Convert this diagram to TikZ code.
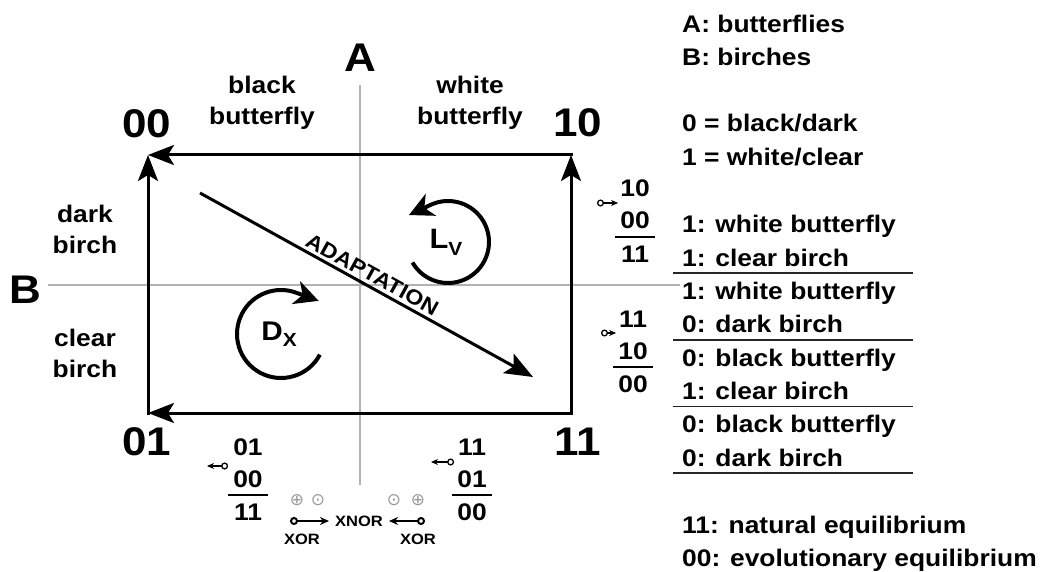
\documentclass[tikz,border=0pt]{standalone}
\usepackage{fontspec}
\setmainfont[FakeStretch=1.1]{Liberation Sans}
\newfontfamily\symfont{DejaVu Sans}
\usetikzlibrary{arrows.meta}
\newcommand{\fsz}[1]{\fontsize{#1}{#1}\selectfont}

\begin{document}
\begin{tikzpicture}[x=1pt, y=-1pt,
  every node/.style={inner sep=0pt, font=\bfseries},
  corner/.style={anchor=base, font=\bfseries\fsz{40}},
  quad/.style={align=center, font=\bfseries\fontsize{24}{31}\selectfont},
  digit/.style={anchor=base, font=\bfseries\fsz{24}},
  legend/.style={anchor=base west, font=\bfseries\fsz{24}},
  small/.style={font=\bfseries\fsz{15}},
  op/.style={font=\symfont\fsz{17}, text=gray!80},
  edgearrow/.style={line width=3pt, line cap=rect, -{Stealth[length=26pt, width=20pt, inset=6pt]}},
  turn/.style={line width=4pt, -{Stealth[length=24pt, width=24pt, inset=7pt]}},
  hookarrow/.style={line width=1.3pt, {Circle[open, length=7pt, width=7pt]}-{Stealth[length=7pt, width=6pt]}},
  xorarrow/.style={line width=2pt, {Circle[open, length=8pt, width=8pt]}-{Stealth[length=9pt, width=8pt]}},
  axis/.style={gray!60, line width=1.5pt},
  rule/.style={black!85, line width=1.8pt}]
  \useasboundingbox (0,0) rectangle (1042,572);

  % Axes A (butterflies) and B (birches)
  \draw[axis] (360,85) -- (360,485);
  \draw[axis] (48,285) -- (680,285);
  \node[corner] (A) at (360,72) {A};
  \node[corner] (B) at (25,303) {B};

  % Quadrant labels
  \node[quad] (qblack) at (262,103) {black\\butterfly};
  \node[quad] (qwhite) at (470,103) {white\\butterfly};
  \node[quad] (qdark) at (85,229) {dark\\birch};
  \node[quad] (qclear) at (85,353) {clear\\birch};

  % Corner states
  \node[corner] (l00) at (147,138) {00};
  \node[corner] (l10) at (578,137) {10};
  \node[corner] (l01) at (147,455) {01};
  \node[corner] (l11) at (578,455) {11};
  \coordinate (c00) at (148,155);
  \coordinate (c10) at (571,155);
  \coordinate (c01) at (148,413);
  \coordinate (c11) at (571,413);
  \draw[edgearrow] (c10) -- (c00);
  \draw[edgearrow] (c01) -- (c00);
  \draw[edgearrow] (c11) -- (c10);
  \draw[edgearrow] (c11) -- (c01);

  % Adaptation diagonal
  \coordinate (adstart) at (200,193);
  \coordinate (adend) at (533,377);
  \draw[line width=3pt, -{Stealth[length=28pt, width=22pt, inset=6pt]}] (adstart) --
    node[midway, above=3pt, sloped, font=\bfseries\fsz{21}] (adlabel) {ADAPTATION} (adend);

  % Rotations L_V and D_X
  \node (lv) at (446,242) {\fsz{28}L\raisebox{-7pt}{\fsz{19}V}};
  \draw[turn] (448,242) ++(-210:41) arc[start angle=-210, end angle=-475, radius=41] -- ++(-21.7,10.2);
  \node (dx) at (279,334) {\fsz{27}D\raisebox{-6pt}{\fsz{19}X}};
  \draw[turn] (281,334) ++(28:44) arc[start angle=28, end angle=290, radius=44] -- ++(22.6,8.2);

  % Stacked transitions
  \foreach \s/\x/\y/\ta/\tb/\tc in {sa/635/197/10/00/11, sb/633/327/11/10/00,
                                     sc/248/455/01/00/11, sd/472/455/11/01/00} {
    \node[digit] (\s1) at (\x,\y) {\ta};
    \node[digit] (\s2) at (\x,\y+32) {\tb};
    \node[digit] (\s3) at (\x,\y+65) {\tc};
    \draw[line width=1.5pt] ([xshift=-20pt, yshift=-8pt]\s2.base) -- ([xshift=20pt, yshift=-8pt]\s2.base);
  }
  \coordinate (ha) at (597,203);
  \coordinate (hb) at (601,333);
  \coordinate (hc) at (207,466);
  \coordinate (hd) at (431,462);
  \draw[hookarrow, shorten >=2pt] (ha) -- (ha -| sa2.west);
  \draw[hookarrow, shorten >=2pt] (hb) -- (hb -| sb2.west);
  \draw[hookarrow] ([xshift=-5pt]sc2.west |- hc) -- (hc);
  \draw[hookarrow] ([xshift=-3pt]sd2.west |- hd) -- (hd);

  % XOR / XNOR
  \node[small, inner sep=6pt] (xnor) at (359,521) {XNOR};
  \node[small] (xorl) at (302,539) {XOR};
  \node[small] (xorr) at (418,539) {XOR};
  \node[op] (opl1) at (297,500) {⊕};
  \node[op] (opl2) at (318,500) {⊙};
  \node[op] (opr1) at (394,500) {⊙};
  \node[op] (opr2) at (418,500) {⊕};
  \coordinate (xl) at (290,521);
  \coordinate (xr) at (425,521);
  \draw[xorarrow] (xl) -- (xnor.west);
  \draw[xorarrow] (xr) -- (xnor.east);

  % Legend
  \node[legend] (la) at (682,33) {A: butterflies};
  \node[legend] (lb) at (682,66) {B: birches};
  \node[legend] (l0) at (682,132) {0 = black/dark};
  \node[legend] (l1) at (682,166) {1 = white/clear};
  \foreach \txt [count=\i] in {1: white butterfly, 1: clear birch, 1: white butterfly, 0: dark birch,
                               0: black butterfly, 1: clear birch, 0: black butterfly, 0: dark birch}
    \node[legend] (t\i) at (682,199.7+33.3*\i) {\txt};
  \foreach \i in {2,4,6,8}
    \draw[rule] ([xshift=-9pt, yshift=-7pt]t\i.base west) -- ++(240,0);
  \node[legend] (ln) at (682,533) {11: natural equilibrium};
  \node[legend] (le) at (682,566) {00: evolutionary equilibrium};
\end{tikzpicture}
\end{document}
